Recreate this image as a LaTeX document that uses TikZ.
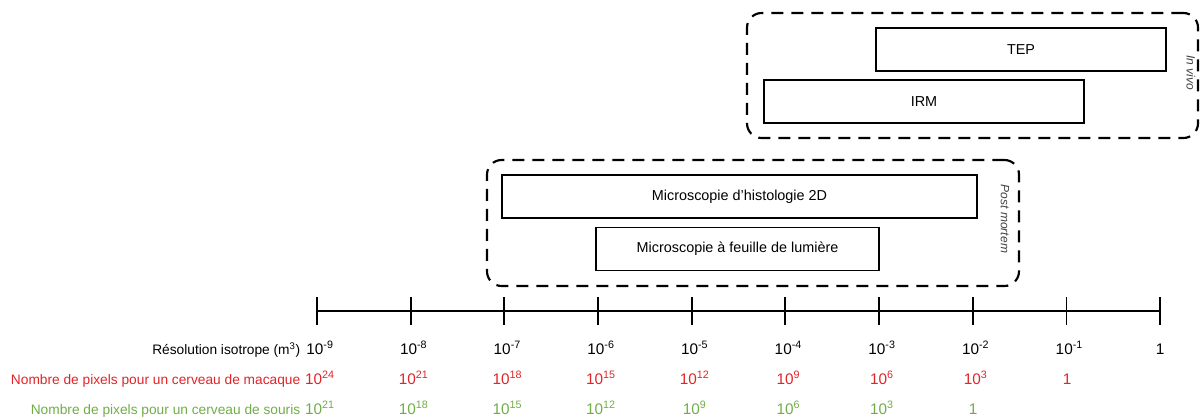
\documentclass[tikz,border=0pt]{standalone}
\usepackage{fontspec}
\setmainfont{Liberation Sans}
\usetikzlibrary{positioning}

\definecolor{macaque}{RGB}{224,36,40}
\definecolor{souris}{RGB}{112,173,71}

\tikzset{
  techbox/.style={draw,line width=1.3pt,minimum height=32.25pt,inner sep=0pt,font=\fontsize{10.8}{13}\selectfont},
  groupbox/.style={draw,line width=1.6pt,dash pattern=on 9pt off 6pt,rounded corners=11pt,inner sep=0pt},
  grouplabel/.style={rotate=-90,font=\small\itshape,text=black!75},
  axisline/.style={line width=1.3pt},
  powlabel/.style={anchor=base,font=\fontsize{11.5}{13}\selectfont},
  rowlabel/.style={anchor=base east,font=\fontsize{10.3}{12}\selectfont}
}

\begin{document}
\begin{tikzpicture}[x=0.75pt,y=-0.75pt]
\useasboundingbox (0,0) rectangle (1201,420);

% in vivo
\node[groupbox,minimum width=338.25pt,minimum height=93.75pt] (vivo) at (972.5,75.5) {};
\node[techbox,minimum width=217.5pt] (tep) at (1021,49.5) {TEP};
\node[techbox,minimum width=240pt] (irm) at (924,101.5) {IRM};
\node[grouplabel] (vivolab) at (1191,73) {In vivo};

% post mortem
\node[groupbox,minimum width=399pt,minimum height=94.5pt] (mortem) at (753,223) {};
\node[techbox,minimum width=356.25pt] (histo) at (739.5,196.5) {Microscopie d'histologie 2D};
\node[techbox,minimum width=212.25pt] (lum) at (737.5,249) {Microscopie à feuille de lumière};
\node[grouplabel] (mortemlab) at (1005,219) {Post mortem};

% axe
\foreach \i in {0,...,9}{\coordinate (t\i) at ({317+93.67*\i},311);}
\draw[axisline] (t0) -- (t9);
\foreach \i in {0,...,9}{\draw[axisline] (t\i) ++(0,-14) -- ++(0,28);}

% resolutions
\node[rowlabel] (reslab) at (305,354) {Résolution isotrope (m\textsuperscript{3})};
\foreach \i/\v in {0/-9,1/-8,2/-7,3/-6,4/-5,5/-4,6/-3,7/-2,8/-1}{
  \node[powlabel] (res\i) at ({320+93.67*\i},354) {10\textsuperscript{\v}};}
\node[powlabel] (res9) at (1160,354) {1};

% macaque
\node[rowlabel,text=macaque] (maclab) at (305,384) {Nombre de pixels pour un cerveau de macaque};
\foreach \i/\v in {0/24,1/21,2/18,3/15,4/12,5/9,6/6,7/3}{
  \node[powlabel,text=macaque] (mac\i) at ({320+93.67*\i},384) {10\textsuperscript{\v}};}
\node[powlabel,text=macaque] (mac8) at (1067,384) {1};

% souris
\node[rowlabel,text=souris] (soulab) at (305,414) {Nombre de pixels pour un cerveau de souris};
\foreach \i/\v in {0/21,1/18,2/15,3/12,4/9,5/6,6/3}{
  \node[powlabel,text=souris] (sou\i) at ({320+93.67*\i},414) {10\textsuperscript{\v}};}
\node[powlabel,text=souris] (sou7) at (973,414) {1};
\end{tikzpicture}
\end{document}
